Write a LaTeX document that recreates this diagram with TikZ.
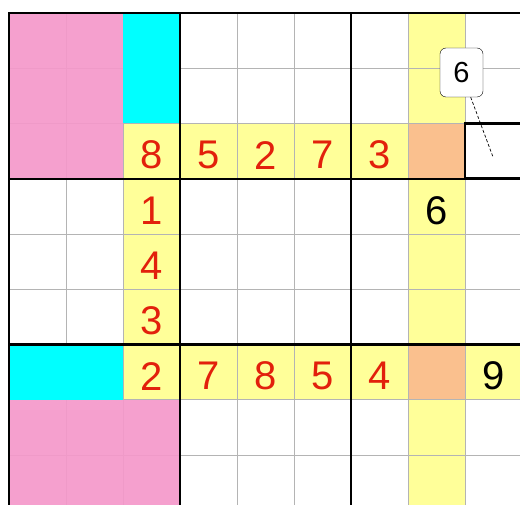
\documentclass[tikz,border=0pt]{standalone}
\usepackage{fontspec}
\setmainfont{Liberation Sans}
\usetikzlibrary{positioning}
\definecolor{cellpink}{RGB}{245,152,202}
\definecolor{cellcyan}{RGB}{0,255,255}
\definecolor{cellyellow}{RGB}{255,255,153}
\definecolor{cellorange}{RGB}{250,192,142}
\definecolor{gridgray}{RGB}{180,180,180}
\definecolor{digred}{RGB}{226,32,12}

\begin{document}
\begin{tikzpicture}[
                x=57pt, y=-55.25pt,
                found/.style={text=digred, font=\fontsize{40}{40}\selectfont,
                        inner sep=0pt, yshift=-4pt},
                clue/.style={found, text=black},
                hintbox/.style={
                        draw, fill=white, rounded corners=6pt, inner sep=0pt,
                        minimum width=43pt, minimum height=49pt,
                        font=\fontsize{29}{29}\selectfont
                    },
                thinline/.style={gridgray, line width=0.8pt},
                boxline/.style={line width=2.4pt, line cap=rect}
                ]
                \fill[white] (-9pt,13pt) rectangle (511pt,-492pt);
                \clip (-9pt,13pt) rectangle (511pt,-492pt);

                % coloured cells
                \fill[cellyellow] (7,0) rectangle (8,9);
                \fill[cellyellow] (2,2) rectangle (7,3);
                \fill[cellyellow] (2,2) rectangle (3,7);
                \fill[cellyellow] (2,6) rectangle (9,7);
                \fill[cellorange] (7,2) rectangle (8,3);
                \fill[cellorange] (7,6) rectangle (8,7);

                \foreach \k in {1,2,4,5,7,8} {
                        \draw[thinline] (\k,0) -- (\k,9);
                        \draw[thinline] (0,\k) -- (9,\k);
                    }
                \fill[cellpink, opacity=0.92] (0,0) rectangle (2,3);
                \fill[cellpink, opacity=0.92] (0,7) rectangle (3,9);
                \fill[cellcyan] (2,0) rectangle (3,2);
                \fill[cellcyan] (0,6) rectangle (2,7);
                \foreach \k in {0,3,6,9} {
                        \draw[boxline] (\k,0) -- (\k,9);
                        \draw[boxline] (0,\k) -- (9,\k);
                    }
                \draw[line width=2.8pt] (8,2) rectangle (9,3);

                % digits
                \foreach \d [count=\i from 3] in {8,5,2,7,3}
                \node[found] (r3c\i) at (\i-0.5,2.5) {\d};
                \foreach \d [count=\j from 4] in {1,4,3,2}
                \node[found] (r\j c3) at (2.5,\j-0.5) {\d};
                \foreach \d [count=\i from 4] in {7,8,5,4}
                \node[found] (r7c\i) at (\i-0.5,6.5) {\d};
                \node[clue] (r4c8) at (7.5,3.5) {6};
                \node[clue] (r7c9) at (8.5,6.5) {9};

                % candidate for the marked cell
                \node[hintbox] (hint) at (452.5pt,-59.5pt) {6};
                \coordinate (tip) at (484pt,-144pt);
                \draw[densely dashed, line width=0.7pt] (hint) -- (tip);
            \end{tikzpicture}
\end{document}
